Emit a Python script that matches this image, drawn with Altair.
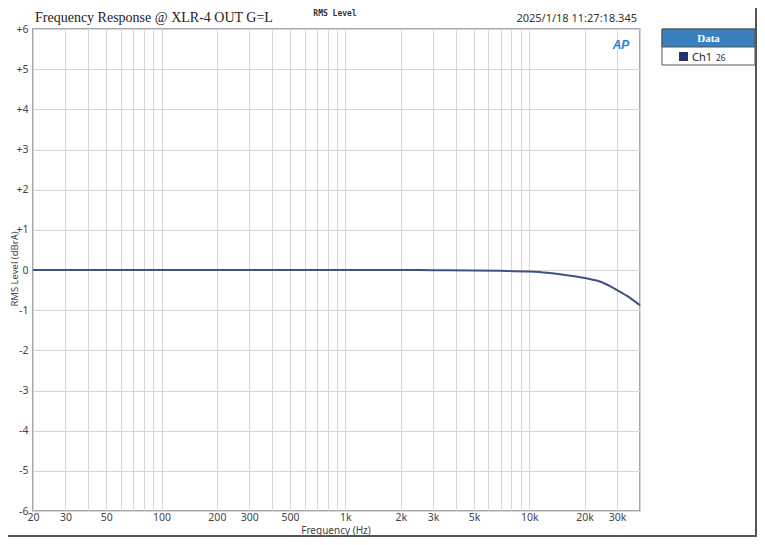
import altair as alt
import pandas as pd

# ---- data ----
freqs = [20, 50, 100, 200, 500, 1000, 2000, 3000, 5000, 7000, 10000, 12500, 15000, 20000, 25000, 30000, 35000, 40000]
levels = [0.0, 0.0, 0.0, 0.0, 0.0, 0.0, 0.0, -0.005, -0.01, -0.02, -0.04, -0.07, -0.11, -0.2, -0.31, -0.5, -0.68, -0.88]

x_grid = [20, 30, 40, 50, 60, 70, 80, 90,
          100, 200, 300, 400, 500, 600, 700, 800, 900,
          1000, 2000, 3000, 4000, 5000, 6000, 7000, 8000, 9000,
          10000, 20000, 30000, 40000]
x_labeled = [20, 30, 50, 100, 200, 300, 500, 1000, 2000, 3000, 5000, 10000, 20000, 30000]
y_ticks = [-6, -5, -4, -3, -2, -1, 0, 1, 2, 3, 4, 5, 6]

title_text = "Frequency Response @ XLR-4 OUT G=L"
top_text = "RMS Level"
date_text = "2025/1/18 11:27:18.345"
x_title = "Frequency (Hz)"
y_title = "RMS Level (dBrA)"
legend_title = "Data"
legend_label = "Ch1"
legend_sub = "26"

df = pd.DataFrame({"freq": freqs, "level": levels})

W, H = 607, 482
FONT = "Noto Sans"

lab_arr = "[" + ",".join(str(v) for v in x_labeled) + "]"
x_label_expr = (f"indexof({lab_arr}, datum.value) >= 0 ? "
                "(datum.value >= 1000 ? (datum.value/1000) + 'k' : '' + datum.value) : ''")

line = alt.Chart(df).mark_line(color="#3f5283", strokeWidth=2, interpolate="monotone").encode(
    x=alt.X("freq:Q",
            scale=alt.Scale(type="log", domain=[20, 40000], nice=False),
            axis=alt.Axis(values=x_grid, labelExpr=x_label_expr, labelOverlap=False,
                          labelFlush=False, ticks=False, domain=False, title=None,
                          labelPadding=1, gridColor="#d6d6d6", labelColor="#444",
                          labelFontSize=10.5, labelFont=FONT)),
    y=alt.Y("level:Q",
            scale=alt.Scale(domain=[-6, 6], nice=False, zero=False),
            axis=alt.Axis(values=y_ticks,
                          labelExpr="datum.value > 0 ? '+' + datum.value : '' + datum.value",
                          ticks=False, domain=False, title=None, labelPadding=5,
                          gridColor="#d6d6d6", labelColor="#444", labelFontSize=10.5,
                          labelFont=FONT)),
)

def txt(text, x, y, **kw):
    return alt.Chart(pd.DataFrame({"t": [text]})).mark_text(**kw).encode(
        text="t:N", x=alt.value(x), y=alt.value(y))

title = txt(title_text, 2, -7, align="left", baseline="alphabetic",
            font="Liberation Serif", fontSize=14, color="#222")
top = txt(top_text, 302, -13, align="center", baseline="alphabetic",
          font="DejaVu Sans Mono", fontSize=8, fontWeight="bold", color="#333")
date = txt(date_text, 604, -7, align="right", baseline="alphabetic",
           font=FONT, fontSize=11, color="#333")
ap = txt("AP", 588, 16, align="center", baseline="middle", font="Liberation Sans",
         fontSize=12, fontWeight="bold", fontStyle="italic", color="#2f7fd0")
xt = txt(x_title, 303, 502, align="center", baseline="middle", font=FONT,
         fontSize=10, color="#444")
yt = txt(y_title, -18.5, 240, align="center", baseline="middle", font=FONT,
         fontSize=9.5, color="#444", angle=270)

# legend box
LX0, LX1 = 629, 722
leg_body = alt.Chart(pd.DataFrame({"a": [0]})).mark_rect(
    fill="white", stroke="#555", strokeWidth=1).encode(
    x=alt.value(LX0), x2=alt.value(LX1), y=alt.value(0), y2=alt.value(36))
leg_head = alt.Chart(pd.DataFrame({"a": [0]})).mark_rect(
    fill="#3a7fbe", stroke="#555", strokeWidth=1).encode(
    x=alt.value(LX0), x2=alt.value(LX1), y=alt.value(0), y2=alt.value(18))
leg_sq = alt.Chart(pd.DataFrame({"a": [0]})).mark_rect(fill="#25336f").encode(
    x=alt.value(646), x2=alt.value(655), y=alt.value(23), y2=alt.value(32))
leg_t = txt(legend_title, (LX0 + LX1) / 2, 9.5, align="center", baseline="middle",
            font="Liberation Serif", fontSize=11, fontWeight="bold", color="white")
leg_l = txt(legend_label, 659, 32, align="left", baseline="alphabetic",
            font=FONT, fontSize=11, color="#222")
leg_s = txt(legend_sub, 683, 32, align="left", baseline="alphabetic",
            font=FONT, fontSize=8.5, color="#333")

# outer frame (right and bottom edges)
frame_r = alt.Chart(pd.DataFrame({"a": [0]})).mark_rule(color="#555", strokeWidth=2).encode(
    x=alt.value(723), y=alt.value(-21), y2=alt.value(507))
frame_b = alt.Chart(pd.DataFrame({"a": [0]})).mark_rule(color="#555", strokeWidth=2).encode(
    x=alt.value(-25), x2=alt.value(724), y=alt.value(507))

chart = alt.layer(line, title, top, date, ap, xt, yt,
                  leg_body, leg_head, leg_sq, leg_t, leg_l, leg_s,
                  frame_r, frame_b).properties(
    width=W, height=H,
    autosize=alt.AutoSizeParams(type="none"),
    padding={"left": 25, "top": 21, "right": 117, "bottom": 26},
    background="white",
).configure_view(stroke="#8a8a8a", strokeWidth=1.5)

chart.save("out.html", embed_options={"renderer": "svg", "actions": False})
